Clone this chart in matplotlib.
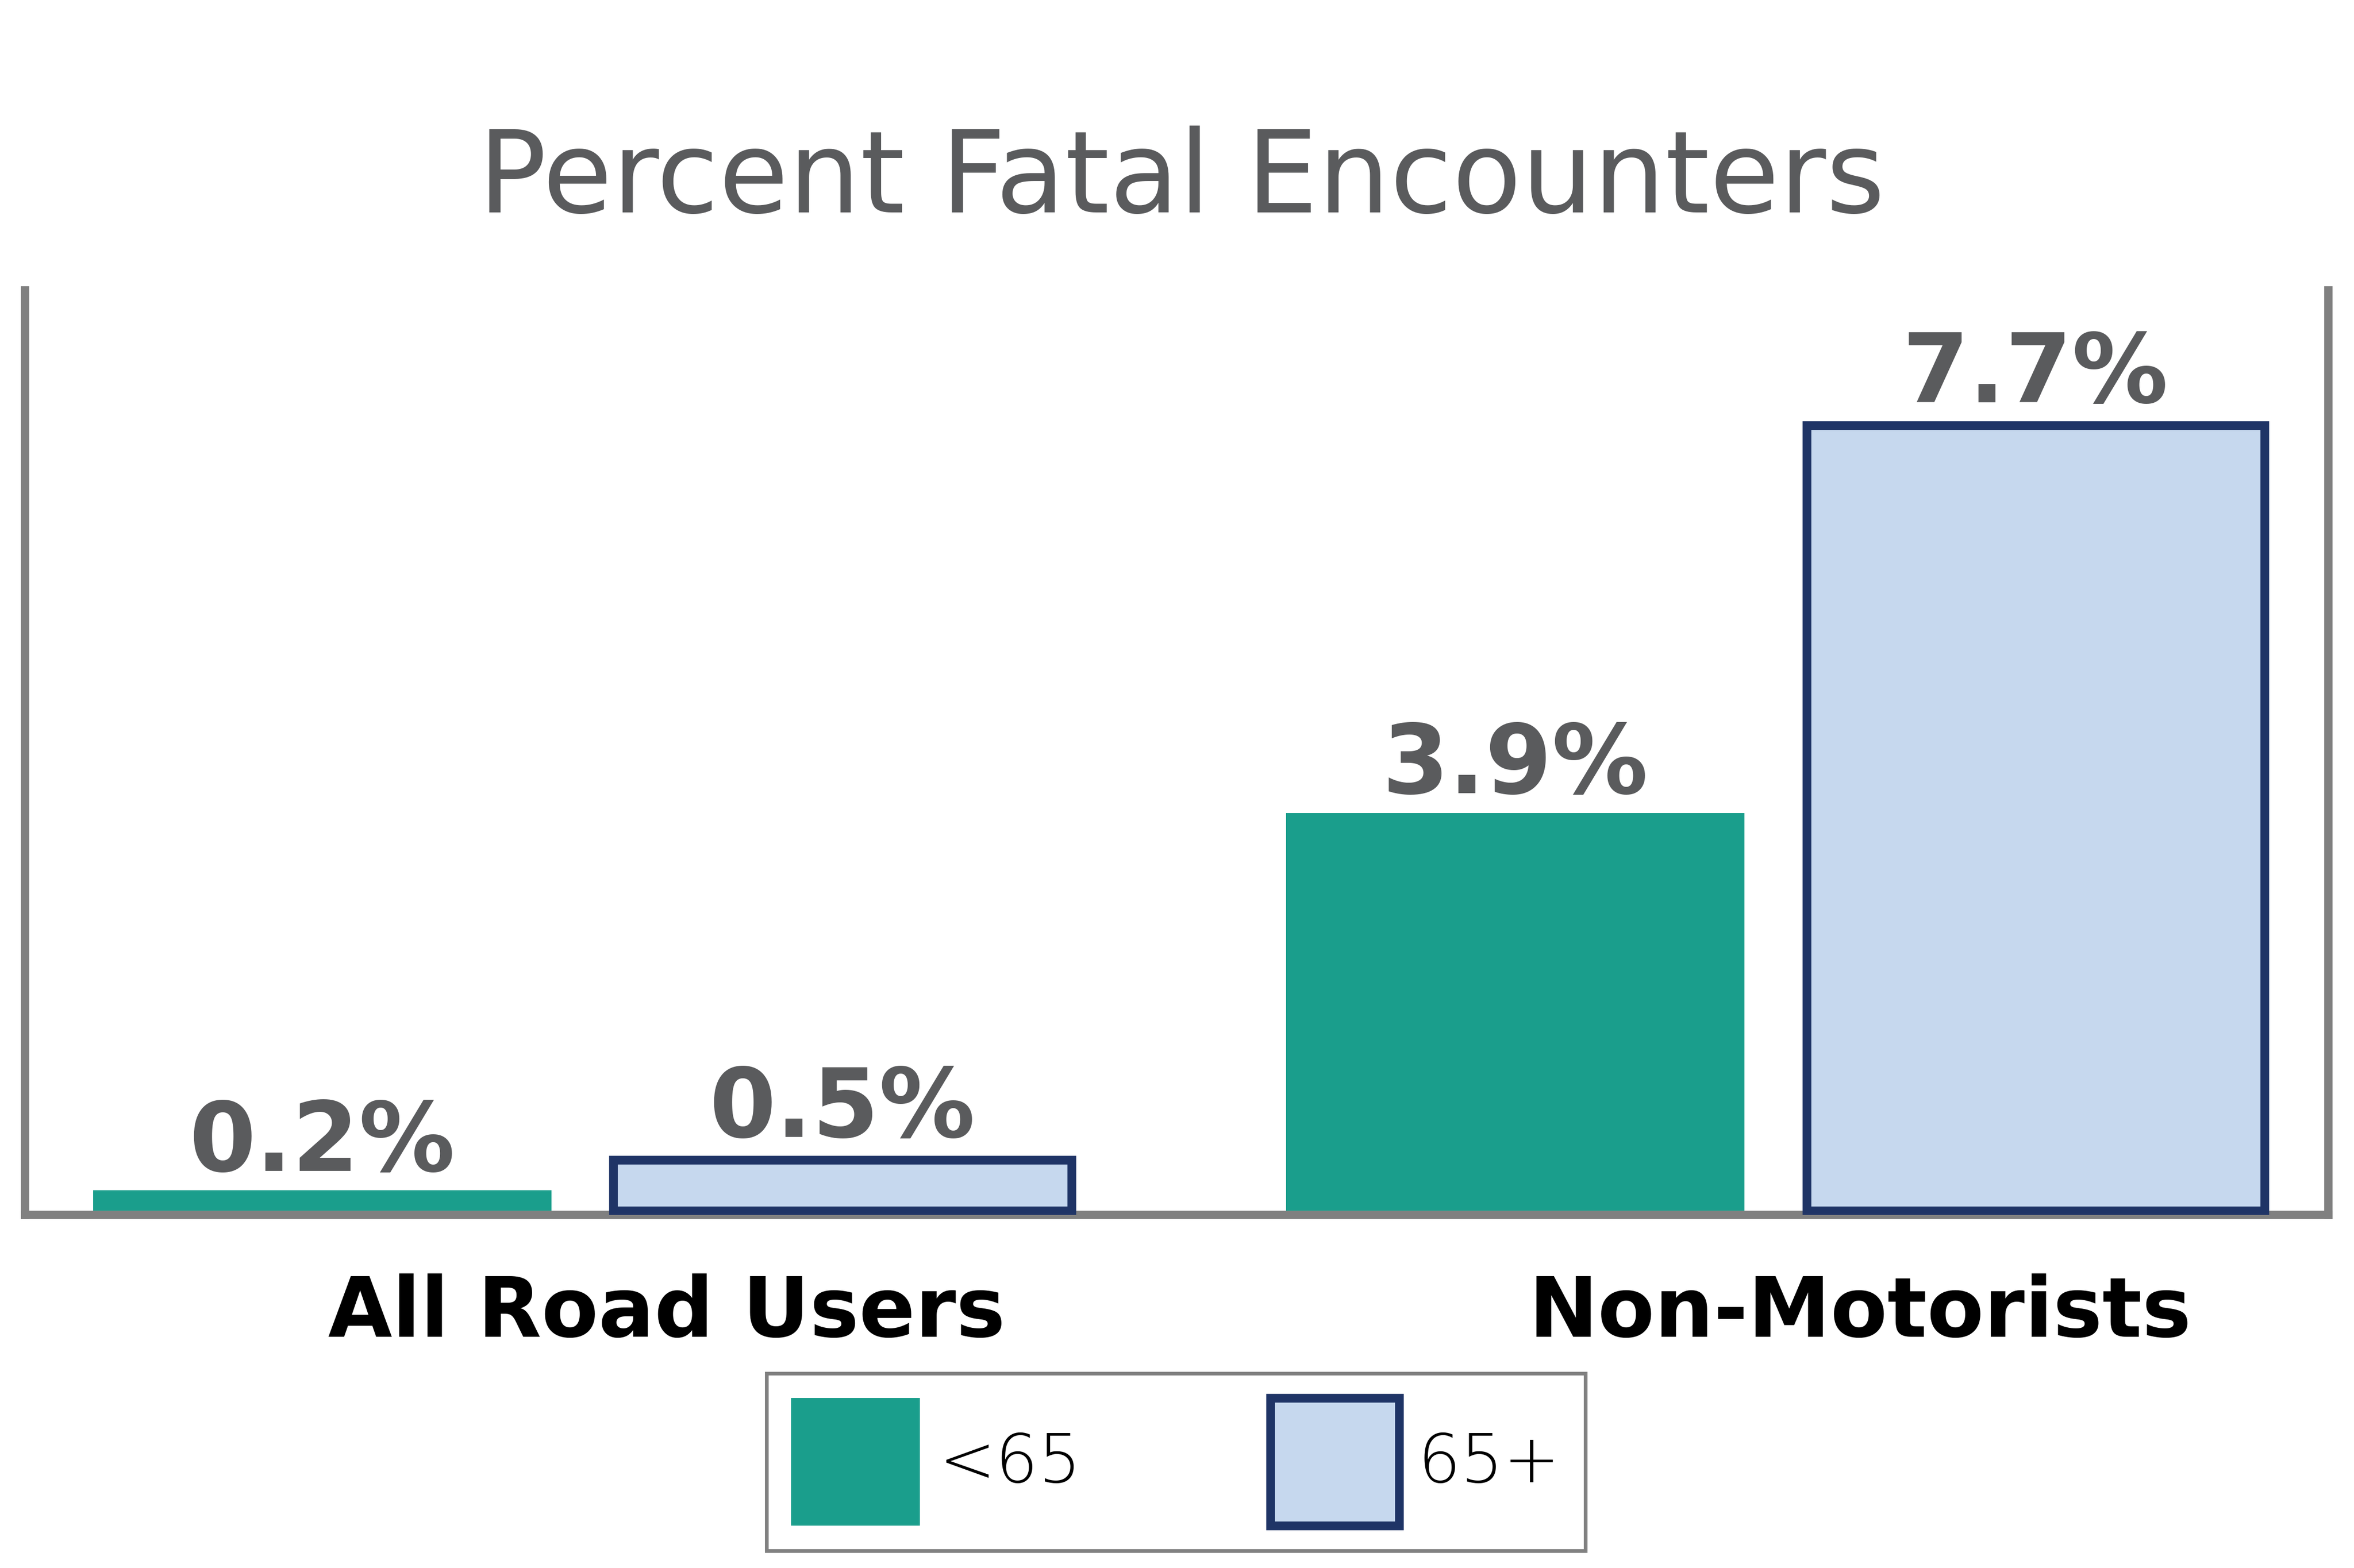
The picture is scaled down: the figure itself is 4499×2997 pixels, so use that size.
import matplotlib
matplotlib.use("Agg")
import matplotlib.pyplot as plt
import numpy as np

# data
groups = ["All Road Users", "Non-Motorists"]
series_names = ["<65", "65+"]
under_65 = [0.2, 3.9]
over_65 = [0.5, 7.7]

TEAL = "#1A9E8C"
LIGHT_BLUE = "#C6D8EE"
NAVY = "#1F3466"
TEXT_GRAY = "#5A5B5D"
SPINE_GRAY = "#808080"

plt.rcParams["font.family"] = ["DejaVu Sans"]

fig = plt.figure(figsize=(4499 / 300, 2997 / 300), dpi=300)
ax = fig.add_axes([0.01067, 0.2252, 0.97844, 0.5896])

x = np.arange(len(groups))
width = 0.384
offset = 0.218

bars_a = ax.bar(x - offset, under_65, width, color=TEAL, label=series_names[0], zorder=2)
bars_b = ax.bar(x + offset, over_65, width, color=LIGHT_BLUE, edgecolor=NAVY,
                linewidth=4, label=series_names[1], zorder=2)

# value labels
for bars, vals, pad in [(bars_a, under_65, 9), (bars_b, over_65, 10.5)]:
    for b, v in zip(bars, vals):
        ax.annotate(f"{v:.1f}%", xy=(b.get_x() + b.get_width() / 2, v),
                    xytext=(0, pad), textcoords="offset points",
                    ha="center", va="baseline", fontsize=44,
                    fontweight="bold", color=TEXT_GRAY)

ax.set_xlim(-0.467, 1.4634)
ax.set_ylim(-0.041, 9.024)

# spines
ax.spines["top"].set_visible(False)
for side in ["left", "right", "bottom"]:
    ax.spines[side].set_color(SPINE_GRAY)
    ax.spines[side].set_linewidth(3.8)
    ax.spines[side].set_zorder(1)
ax.spines["bottom"].set_capstyle("projecting")

ax.set_xticks([])
ax.set_yticks([])

# category labels
for xi, g in zip(x, groups):
    ax.annotate(g, xy=(xi + 0.07, 0), xycoords=("data", "axes fraction"),
                xytext=(0.5, -56), textcoords="offset points",
                ha="center", va="baseline", fontsize=38, fontweight="bold",
                color="black")

fig.text(0.502, 0.8645, "Percent Fatal Encounters", ha="center", va="baseline",
         fontsize=52, color=TEXT_GRAY)

leg = fig.legend(loc="center", bbox_to_anchor=(0.4995, 0.0677), ncol=2,
                 handlelength=1.9, handleheight=2.52,
                 handletextpad=0.28, columnspacing=2.8, borderpad=0.37,
                 fancybox=False, framealpha=1, edgecolor=SPINE_GRAY,
                 prop={"size": 31, "weight": "light"})
leg.get_frame().set_linewidth(1.7)

fig.savefig("out.png", dpi=300, facecolor="white")
